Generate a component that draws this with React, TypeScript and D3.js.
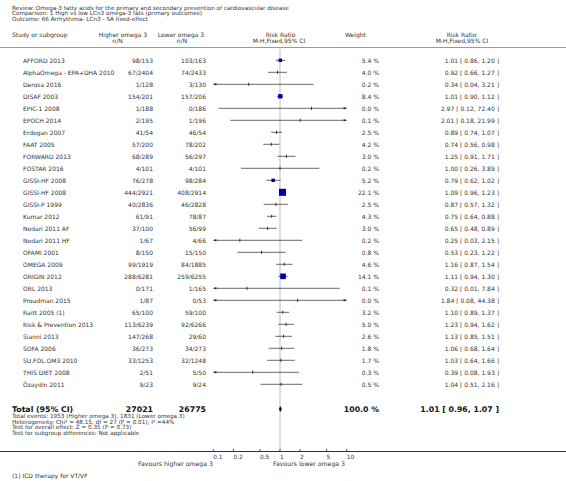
import React from "react";
import * as d3 from "d3";

const studies = [
  "AFFORD 2013", "AlphaOmega - EPA+DHA 2010", "Derosa 2016", "DISAF 2003", "EPIC-1 2008",
  "EPOCH 2014", "Erdogan 2007", "FAAT 2005", "FORWARD 2013", "FOSTAR 2016",
  "GISSI-HF 2008", "GISSI-HF 2008", "GISSI-P 1999", "Kumar 2012", "Nodari 2011 AF",
  "Nodari 2011 HF", "OFAMI 2001", "OMEGA 2009", "ORIGIN 2012", "ORL 2013",
  "Proudman 2015", "Raitt 2005 (1)", "Risk & Prevention 2013", "Sianni 2013", "SOFA 2006",
  "SU.FOL.OM3 2010", "THIS DIET 2008", "Özaydin 2011",
];
const higherNN = [
  "98/153", "67/2404", "1/128", "154/201", "1/188", "2/195", "41/54", "57/200", "68/289", "4/101",
  "76/278", "444/2921", "40/2836", "61/91", "37/100", "1/67", "8/150", "99/1919", "288/6281", "0/171",
  "1/87", "65/100", "113/6239", "147/268", "36/273", "33/1253", "2/51", "9/23",
];
const lowerNN = [
  "103/163", "74/2433", "3/130", "157/206", "0/186", "1/196", "46/54", "78/202", "56/297", "4/101",
  "98/284", "408/2914", "46/2828", "78/87", "56/99", "4/66", "15/150", "84/1885", "259/6255", "1/165",
  "0/53", "59/100", "92/6266", "29/60", "34/273", "32/1248", "5/50", "9/24",
];
const weights = [
  5.4, 4.0, 0.2, 8.4, 0.0, 0.1, 2.5, 4.2, 3.0, 0.2,
  5.2, 22.1, 2.5, 4.3, 3.0, 0.2, 0.8, 4.6, 14.1, 0.1,
  0.0, 3.2, 5.0, 2.6, 1.8, 1.7, 0.3, 0.5,
];
const rr = [
  1.01, 0.92, 0.34, 1.01, 2.97, 2.01, 0.89, 0.74, 1.25, 1.0,
  0.79, 1.09, 0.87, 0.75, 0.65, 0.25, 0.53, 1.16, 1.11, 0.32,
  1.84, 1.1, 1.23, 1.13, 1.06, 1.03, 0.39, 1.04,
];
const ciLow = [
  0.86, 0.66, 0.04, 0.9, 0.12, 0.18, 0.74, 0.56, 0.91, 0.26,
  0.62, 0.96, 0.57, 0.64, 0.48, 0.03, 0.23, 0.87, 0.94, 0.01,
  0.08, 0.89, 0.94, 0.85, 0.68, 0.64, 0.08, 0.51,
];
const ciHigh = [
  1.2, 1.27, 3.21, 1.12, 72.4, 21.99, 1.07, 0.98, 1.71, 3.89,
  1.02, 1.23, 1.32, 0.88, 0.89, 2.15, 1.22, 1.54, 1.3, 7.84,
  44.38, 1.37, 1.62, 1.51, 1.64, 1.66, 1.93, 2.16,
];
const axisTicks = [0.1, 0.2, 0.5, 1, 2, 5, 10];
const axisTickLabels = ["0.1", "0.2", "0.5", "1", "2", "5", "10"];
const total = { higher: "27021", lower: "26775", weight: "100.0 %", rr: 1.01, lo: 0.96, hi: 1.07 };
const headerLines = [
  "Review:  Omega-3 fatty acids for the primary and secondary prevention of cardiovascular disease",
  "Comparison:  1 High vs low LCn3 omega-3 fats (primary outcomes)",
  "Outcome:  66 Arrhythmia- LCn3 - SA fixed-effect",
];
const totalNotes = [
  "Total events: 1953 (Higher omega 3), 1831 (Lower omega 3)",
  "Heterogeneity: Chi² = 48.15, df = 27 (P = 0.01); I² =44%",
  "Test for overall effect: Z = 0.35 (P = 0.73)",
  "Test for subgroup differences: Not applicable",
];
const footnote = "(1) ICD therapy for VT/VF";

const W = 566;
const H = 481;
const FONT = "DejaVu Sans, Verdana, sans-serif";
const TXT = "#333";

function fmt(v: number) {
  return v.toFixed(2);
}
function ciText(r: number, l: number, h: number) {
  return `${fmt(r)} [ ${fmt(l)}, ${fmt(h)} ]`;
}

export default function App() {
  const x = d3.scaleLog().domain([0.1, 10]).range([213.3, 346.7]);
  const y = d3.scaleLinear().domain([0, studies.length - 1]).range([60.3, 384.3]);
  const xMin = x(0.1);
  const xMax = x(10);
  const axisY = 451.5;
  const totalY = 409;

  const rows = studies.map((s, i) => {
    const yy = y(i);
    const lo = ciLow[i];
    const hi = ciHigh[i];
    const x1 = Math.max(xMin, x(lo));
    const x2 = Math.min(xMax, x(hi));
    const px = x(rr[i]);
    const w = weights[i];
    const side = 1.5 * Math.sqrt(w);
    return (
      <g key={i}>
        <text x={23} y={yy} fontSize={6} fill={TXT} dominantBaseline="central">{s}</text>
        <text x={153} y={yy} fontSize={6} fill={TXT} textAnchor="end" dominantBaseline="central">{higherNN[i]}</text>
        <text x={206} y={yy} fontSize={6} fill={TXT} textAnchor="end" dominantBaseline="central">{lowerNN[i]}</text>
        <line x1={x1} x2={x2} y1={yy} y2={yy} stroke="#444" strokeWidth={0.8} />
        {lo < 0.1 && (
          <path d={`M${xMin},${yy} L${xMin + 3},${yy - 1.3} L${xMin + 3},${yy + 1.3} Z`} fill="#222" />
        )}
        {hi > 10 && (
          <path d={`M${xMax},${yy} L${xMax - 3},${yy - 1.3} L${xMax - 3},${yy + 1.3} Z`} fill="#222" />
        )}
        {w > 5.1 ? (
          <rect x={px - side / 2} y={yy - side / 2} width={side} height={side} fill="#0000a8" />
        ) : (
          <line x1={px} x2={px} y1={yy - 1.6} y2={yy + 1.6} stroke="#111" strokeWidth={0.8} />
        )}
        <text x={379} y={yy} fontSize={6} fill={TXT} textAnchor="end" dominantBaseline="central">{`${w.toFixed(1)} %`}</text>
        <text x={499} y={yy} fontSize={6} fill={TXT} textAnchor="end" dominantBaseline="central">{ciText(rr[i], lo, hi)}</text>
      </g>
    );
  });

  const dl = x(total.lo);
  const dh = x(total.hi);
  const dc = x(total.rr);

  return (
    <svg width={W} height={H} style={{ position: "absolute", left: 0, top: 0, background: "#fff" }} fontFamily={FONT}>
      <rect x={0} y={0} width={W} height={H} fill="#fff" />
      {headerLines.map((t, i) => (
        <text key={i} x={12} y={7.5 + i * 5.8} fontSize={5.7} fill={TXT} dominantBaseline="central">{t}</text>
      ))}
      <g fontSize={6} fill={TXT}>
        <text x={12} y={34} dominantBaseline="central">Study or subgroup</text>
        <text x={123} y={34} textAnchor="middle" dominantBaseline="central">Higher omega 3</text>
        <text x={117.5} y={40.5} textAnchor="middle" dominantBaseline="central">n/N</text>
        <text x={181} y={34} textAnchor="middle" dominantBaseline="central">Lower omega 3</text>
        <text x={182} y={40.5} textAnchor="middle" dominantBaseline="central">n/N</text>
        <text x={280.5} y={34} textAnchor="middle" dominantBaseline="central">Risk Ratio</text>
        <text x={279} y={40.5} textAnchor="middle" dominantBaseline="central">M-H,Fixed,95% CI</text>
        <text x={345} y={34} dominantBaseline="central">Weight</text>
        <text x={461.5} y={34} textAnchor="middle" dominantBaseline="central">Risk Ratio</text>
        <text x={462} y={40.5} textAnchor="middle" dominantBaseline="central">M-H,Fixed,95% CI</text>
      </g>
      <line x1={0} x2={W} y1={47.5} y2={47.5} stroke="#999" strokeWidth={1} />
      <line x1={x(1)} x2={x(1)} y1={49} y2={axisY} stroke="#ddd" strokeWidth={2} />
      {rows}
      <text x={12} y={totalY} fontSize={7.8} fontWeight="bold" fill="#111" dominantBaseline="central">Total (95% CI)</text>
      <text x={153} y={totalY} fontSize={7.8} fontWeight="bold" fill="#111" textAnchor="end" dominantBaseline="central">{total.higher}</text>
      <text x={206} y={totalY} fontSize={7.8} fontWeight="bold" fill="#111" textAnchor="end" dominantBaseline="central">{total.lower}</text>
      <path d={`M${dl},${totalY} L${dc},${totalY - 3} L${dh},${totalY} L${dc},${totalY + 3} Z`} fill="#111" />
      <text x={379} y={totalY} fontSize={7.8} fontWeight="bold" fill="#111" textAnchor="end" dominantBaseline="central">{total.weight}</text>
      <text x={499} y={totalY} fontSize={7.8} fontWeight="bold" fill="#111" textAnchor="end" dominantBaseline="central">{ciText(total.rr, total.lo, total.hi)}</text>
      {totalNotes.map((t, i) => (
        <text key={i} x={12} y={416 + i * 5.6} fontSize={5.7} fill={TXT} dominantBaseline="central">{t}</text>
      ))}
      <line x1={0} x2={W} y1={axisY} y2={axisY} stroke="#333" strokeWidth={1} />
      {axisTicks.map((t, i) => (
        <g key={i}>
          <line x1={x(t)} x2={x(t)} y1={axisY - 2.5} y2={axisY} stroke="#333" strokeWidth={0.8} />
          <text x={x(t)} y={457} fontSize={5.8} fill={TXT} dominantBaseline="central">{axisTickLabels[i]}</text>
        </g>
      ))}
      <text x={213} y={463.5} fontSize={6.2} fill={TXT} textAnchor="end" dominantBaseline="central">Favours higher omega 3</text>
      <text x={273} y={463.5} fontSize={6.2} fill={TXT} dominantBaseline="central">Favours lower omega 3</text>
      <text x={12} y={475.5} fontSize={6} fill={TXT} dominantBaseline="central">{footnote}</text>
    </svg>
  );
}
